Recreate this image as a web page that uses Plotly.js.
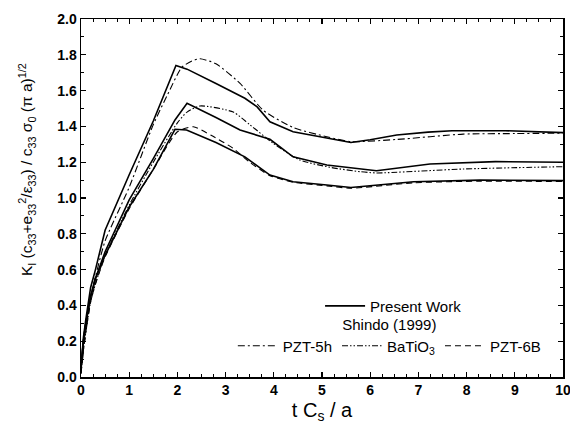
<!DOCTYPE html>
<html>
<head>
<meta charset="utf-8">
<script src="https://cdn.plot.ly/plotly-3.0.1.min.js"></script>
<style>html,body{margin:0;padding:0;background:#fff;}#chart{width:570px;height:429px;}</style>
</head>
<body>
<div id="chart"></div>
<script>
// Present Work (solid)
const pw5hX = [0, 0.05, 0.1, 0.2, 0.3, 0.5, 1.0, 1.5, 1.97, 2.2, 2.8, 3.4, 3.65, 3.92, 4.4, 5.1, 5.6, 6.0, 6.55, 7.2, 7.7, 8.8, 9.5, 10];
const pw5hY = [0.05, 0.22, 0.32, 0.5, 0.6, 0.82, 1.13, 1.43, 1.74, 1.72, 1.64, 1.557, 1.51, 1.426, 1.37, 1.333, 1.31, 1.325, 1.352, 1.368, 1.376, 1.376, 1.37, 1.365];
const pwBaX = [0, 0.05, 0.1, 0.2, 0.3, 0.5, 1.0, 1.5, 1.95, 2.2, 2.8, 3.3, 3.92, 4.4, 5.1, 5.8, 6.13, 7.24, 8.6, 10];
const pwBaY = [0.05, 0.2, 0.3, 0.45, 0.55, 0.7, 0.99, 1.22, 1.436, 1.529, 1.45, 1.38, 1.328, 1.23, 1.184, 1.16, 1.152, 1.19, 1.203, 1.2];
const pw6BX = [0, 0.05, 0.1, 0.2, 0.3, 0.5, 1.0, 1.5, 1.95, 2.19, 2.8, 3.4, 3.92, 4.4, 5.1, 5.6, 6.9, 8.28, 10];
const pw6BY = [0.05, 0.2, 0.3, 0.45, 0.55, 0.68, 0.95, 1.16, 1.384, 1.38, 1.31, 1.23, 1.128, 1.091, 1.073, 1.059, 1.091, 1.1, 1.097];
// Shindo (1999)
const sh5hX = [0, 0.05, 0.1, 0.2, 0.3, 0.5, 1.0, 1.5, 1.8, 2.09, 2.3, 2.47, 2.8, 3.3, 3.78, 4.4, 5.1, 5.6, 6.55, 7.93, 9.0, 10];
const sh5hY = [0.02, 0.15, 0.26, 0.45, 0.56, 0.76, 1.06, 1.41, 1.58, 1.73, 1.765, 1.778, 1.75, 1.64, 1.49, 1.394, 1.342, 1.315, 1.327, 1.357, 1.36, 1.362];
const shBaX = [0, 0.05, 0.1, 0.2, 0.3, 0.5, 1.0, 1.5, 2.0, 2.2, 2.47, 3.16, 3.5, 3.99, 4.54, 5.2, 5.79, 6.13, 7.93, 10];
const shBaY = [0.02, 0.15, 0.25, 0.42, 0.52, 0.68, 0.96, 1.2, 1.42, 1.48, 1.514, 1.48, 1.41, 1.305, 1.212, 1.17, 1.147, 1.14, 1.162, 1.175];
const sh6BX = [0, 0.05, 0.1, 0.2, 0.3, 0.5, 1.0, 1.5, 2.0, 2.33, 2.7, 3.16, 3.5, 3.92, 4.4, 5.1, 5.6, 6.9, 8.28, 10];
const sh6BY = [0.02, 0.15, 0.25, 0.42, 0.52, 0.67, 0.94, 1.16, 1.37, 1.398, 1.35, 1.277, 1.2, 1.125, 1.088, 1.068, 1.055, 1.085, 1.094, 1.092];

const xTickVals = [0,1,2,3,4,5,6,7,8,9,10];
const yTickVals = [0,0.2,0.4,0.6,0.8,1.0,1.2,1.4,1.6,1.8,2.0];

const FONT = 'Liberation Sans, Arial, sans-serif';
const solid = {color:'#000', width:1.6};
const traces = [
  {x:pw5hX, y:pw5hY, mode:'lines', name:'Present Work', line:solid, legend:'legend', showlegend:true},
  {x:pwBaX, y:pwBaY, mode:'lines', name:'Present Work', line:solid, legend:'legend', showlegend:false},
  {x:pw6BX, y:pw6BY, mode:'lines', name:'Present Work', line:solid, legend:'legend', showlegend:false},
  {x:sh5hX, y:sh5hY, mode:'lines', name:'PZT-5h', line:{color:'#000', width:1.1, dash:'7px,3px,2px,3px', shape:'spline', smoothing:0.6}, legend:'legend2'},
  {x:shBaX, y:shBaY, mode:'lines', name:'BaTiO<sub>3</sub>', line:{color:'#000', width:1.1, dash:'6px,2px,1.5px,2px,1.5px,2px', shape:'spline', smoothing:0.6}, legend:'legend2'},
  {x:sh6BX, y:sh6BY, mode:'lines', name:'PZT-6B', line:{color:'#000', width:1.1, dash:'6px,4px', shape:'spline', smoothing:0.6}, legend:'legend2'}
];

const axisCommon = {
  showline:true, linecolor:'#000', linewidth:1.5, mirror:'ticks',
  ticks:'inside', ticklen:5, tickwidth:1.2, tickcolor:'#000',
  showgrid:false, zeroline:false, ticklabeloverflow:'allow',
  tickfont:{family:FONT, size:14, color:'#000'}
};

const layout = {
  width:570, height:429,
  margin:{l:81, r:7, t:19, b:52},
  paper_bgcolor:'#fff', plot_bgcolor:'#fff',
  font:{family:FONT, color:'#000'},
  xaxis: Object.assign({}, axisCommon, {
    range:[0,10], tickvals:xTickVals, ticktext:xTickVals.map(v=>'<b>'+v+'</b>'),
    minor:{dtick:0.25, ticks:'inside', ticklen:3, tickcolor:'#000', tickwidth:1},
    title:{text:'t C<sub>s</sub> / a', font:{size:20, family:FONT}, standoff:5}
  }),
  yaxis: Object.assign({}, axisCommon, {
    range:[0,2.0], tickvals:yTickVals, ticktext:yTickVals.map(v=>'<b>'+v.toFixed(1)+'</b>'),
    minor:{dtick:0.1, ticks:'inside', ticklen:3, tickcolor:'#000', tickwidth:1}
  }),
  annotations:[{
    text:'K<sub>I</sub> (c<sub>33</sub>+e<sub>33</sub><sup>2</sup>/ε<sub>33</sub>) / c<sub>33</sub> σ<sub>0</sub> (π a)<sup>1/2</sup>',
    xref:'paper', yref:'paper', x:-0.112, y:0.578, xanchor:'center', yanchor:'middle',
    textangle:-90, showarrow:false, font:{size:15.5, family:FONT, color:'#000'}
  }],
  legend:{x:0.496, y:0.244, xanchor:'left', yanchor:'top', bgcolor:'rgba(0,0,0,0)',
    font:{size:15, family:FONT}, itemwidth:40, tracegroupgap:0},
  legend2:{x:0.315, y:0.187, xanchor:'left', yanchor:'top', orientation:'h', bgcolor:'rgba(0,0,0,0)',
    font:{size:15, family:FONT}, itemwidth:40,
    title:{text:'Shindo (1999)', side:'top center', font:{size:15, family:FONT}}},
  showlegend:true
};

Plotly.newPlot('chart', traces, layout, {staticPlot:true, displayModeBar:false});
</script>
</body>
</html>
